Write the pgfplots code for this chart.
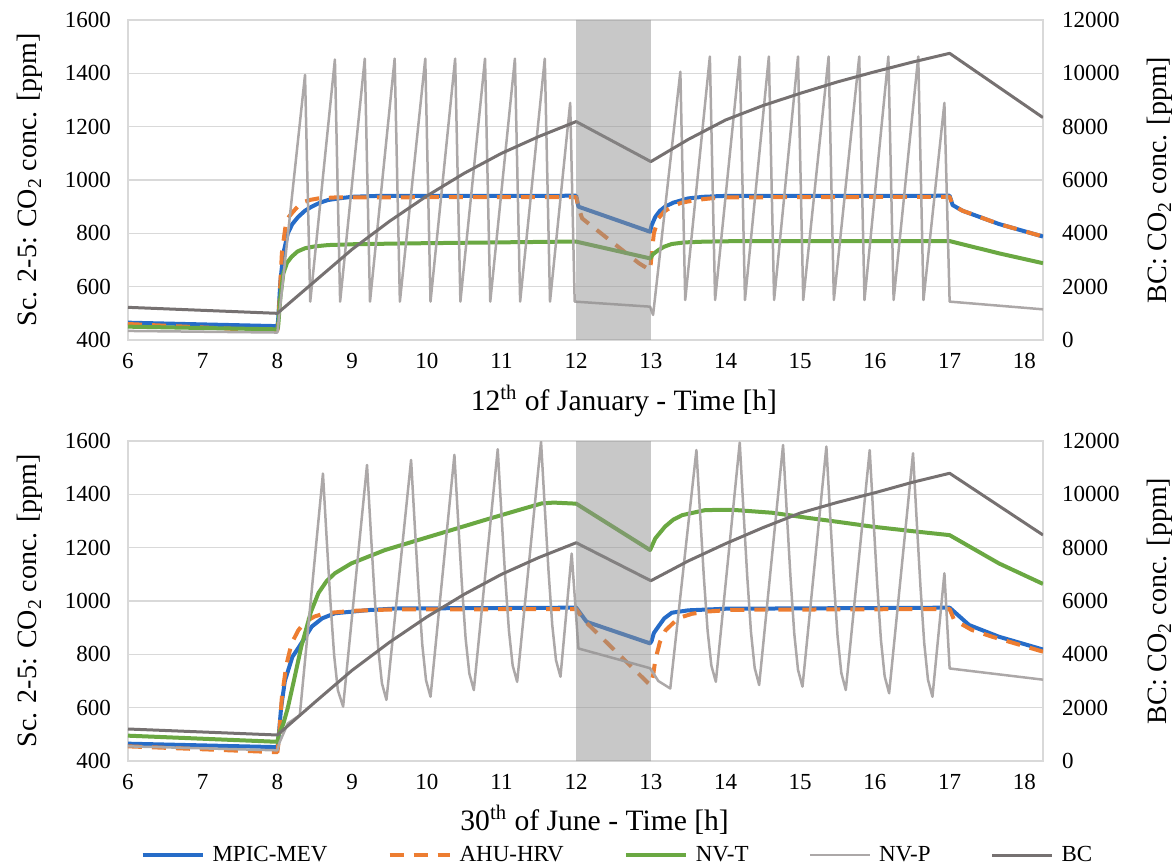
\documentclass[border=0pt]{standalone}
\usepackage{fontspec}
\setmainfont{Liberation Serif}
\usepackage{pgfplots}
\pgfplotsset{compat=1.18}

\definecolor{cBlue}{RGB}{38,108,200}
\definecolor{cOrange}{RGB}{237,125,49}
\definecolor{cGreen}{RGB}{106,168,66}
\definecolor{cNVP}{RGB}{172,168,168}
\definecolor{cBC}{RGB}{118,113,113}
\definecolor{cGrid}{RGB}{217,217,217}
\definecolor{cShade}{RGB}{145,145,145}

\pgfplotsset{
  base/.style={
    width=457.5pt, height=160pt, scale only axis,
    xmin=6, xmax=18.25, xtick={6,...,18},
    tick style={draw=none},
    tick label style={font=\rmfamily\fontsize{11.5}{13}\selectfont},
    label style={font=\rmfamily\fontsize{14}{16}\selectfont},
    /pgf/number format/assume math mode=true,
    /pgf/number format/1000 sep={},
    scaled y ticks=false,
  },
  lefty/.style={base, ymin=400, ymax=1600, ytick={400,600,...,1600},
    ymajorgrids, grid style={cGrid, line width=0.6pt},
    axis line style={cGrid, line width=0.6pt},
    yticklabel style={xshift=-5pt},
    xticklabel style={yshift=-3pt},
    ylabel={Sc. 2-5: CO\textsubscript{2} conc. [ppm]},
    ylabel style={at={(-0.107,0.5)}, anchor=center},
    xlabel style={anchor=center, font=\rmfamily\fontsize{14.8}{17}\selectfont},
  },
  righty/.style={base, ymin=0, ymax=12000, ytick={0,2000,...,12000},
    axis y line*=right, axis x line=none, y axis line style={draw=none},
    yticklabel style={xshift=6pt},
    ylabel={BC: CO\textsubscript{2} conc. [ppm]},
    ylabel style={at={(1.128,0.5)}, anchor=center},
  },
  mev/.style={cBlue, line width=2pt, line join=round},
  ahu/.style={cOrange, line width=2pt, dash pattern=on 7pt off 5pt, line join=round},
  nvt/.style={cGreen, line width=2pt, line join=round},
  nvp/.style={cNVP, line width=1.25pt, line join=round},
  bc/.style={cBC, line width=1.5pt, line join=round},
}

\begin{document}
\begin{tikzpicture}
\useasboundingbox (-64pt,-264pt) rectangle (523.5pt,170pt);

% ---------------- 12th of January ----------------
\begin{axis}[lefty, at={(0,0)}, xlabel={12\textsuperscript{th} of January - Time [h]},
  xlabel style={at={(0.542,-0.19)}}]
\addplot[mev] coordinates {(6,465) (8,452) (8.01,475) (8.04,620) (8.08,725) (8.14,800) (8.2,835) (8.28,862) (8.37,885) (8.46,900) (8.57,915) (8.68,925) (8.85,932) (9,937) (9.3,940) (12,941) (12.03,900) (12.99,806) (13.01,830) (13.06,862) (13.12,884) (13.19,900) (13.3,915) (13.5,931) (13.7,937) (13.95,940) (17,941) (17.04,906) (17.17,885) (17.66,835) (18.25,788)};
\addplot[ahu] coordinates {(6,460) (8,434) (8.02,500) (8.06,725) (8.12,850) (8.21,881) (8.32,915) (8.45,926) (8.55,931) (8.8,935) (12,936) (12.04,890) (12.08,856) (12.84,688) (12.99,662) (13.04,800) (13.1,856) (13.18,882) (13.28,900) (13.4,914) (13.6,925) (13.8,931) (14.04,935) (17,937) (17.04,906) (17.17,885) (17.66,835) (18.25,788)};
\addplot[nvt] coordinates {(6,450) (8,440) (8.01,450) (8.04,560) (8.08,650) (8.13,690) (8.19,712) (8.27,732) (8.37,744) (8.5,751) (8.68,756) (9,759) (9.66,762) (11.9,769) (12,769) (12.99,706) (13.03,722) (13.1,737) (13.18,750) (13.28,760) (13.45,766) (13.73,769) (14.2,771) (17,771) (17.66,725) (18.25,688)};
\addplot[nvp] coordinates {(6,434) (8,428) (8.37,1394) (8.44,544) (8.77,1452) (8.84,544) (9.17,1455) (9.24,544) (9.57,1455) (9.64,544) (9.98,1455) (10.05,544) (10.38,1455) (10.45,544) (10.78,1455) (10.85,544) (11.18,1455) (11.25,544) (11.58,1455) (11.65,544) (11.92,1289) (11.98,544) (12.99,525) (13.03,494) (13.395,1406) (13.46,550) (13.79,1463) (13.86,550) (14.19,1463) (14.26,550) (14.58,1463) (14.65,550) (14.97,1463) (15.04,550) (15.38,1463) (15.45,550) (15.79,1463) (15.86,550) (16.18,1463) (16.25,550) (16.58,1463) (16.65,550) (16.93,1289) (17,544) (18.25,515)};
\end{axis}
\begin{axis}[righty, at={(0,0)}]
\addplot[bc] coordinates {(6,1225) (8,1000) (8.5,2200) (9,3400) (9.5,4450) (10,5400) (10.5,6250) (11,7000) (11.5,7630) (12,8190) (13,6690) (13.5,7520) (14,8250) (14.5,8790) (15,9250) (15.5,9680) (16,10060) (16.5,10420) (17,10750) (18.25,8340)};
\addplot[draw=none, fill=cShade, fill opacity=0.5, forget plot] coordinates {(12,0) (12,12000) (13,12000) (13,0)} \closedcycle;
\end{axis}

% ---------------- 30th of June ----------------
\begin{axis}[lefty, at={(0,-210.5pt)}, xlabel={30\textsuperscript{th} of June - Time [h]},
  xlabel style={at={(0.51,-0.184)}},
  legend style={at={(0.536,-0.294)}, anchor=center, draw=none, fill=none,
    legend columns=5, font=\rmfamily\fontsize{11.5}{13}\selectfont,
    /tikz/every odd column/.append style={column sep=2pt},
    /tikz/every even column/.append style={column sep=28pt}},
  legend image code/.code={\draw[#1] (0pt,0pt) -- (30pt,0pt);},
]
\addplot[mev] coordinates {(6,465) (8,452) (8.01,470) (8.05,600) (8.1,700) (8.2,790) (8.32,841) (8.46,904) (8.6,935) (8.77,954) (9.22,966) (9.6,972) (12,975) (12.14,922) (12.99,841) (13.01,850) (13.04,880) (13.1,904) (13.18,935) (13.28,956) (13.5,965) (14,971) (17,975) (17.26,910) (17.66,866) (18.25,818)};
\addlegendentry{MPIC-MEV}
\addplot[ahu] coordinates {(6,455) (8,433) (8.02,480) (8.06,640) (8.12,760) (8.19,841) (8.28,890) (8.37,922) (8.5,942) (8.64,954) (9,963) (9.5,968) (12,970) (12.1,929) (12.99,685) (13.03,720) (13.06,779) (13.12,845) (13.2,891) (13.37,936) (13.55,952) (13.73,960) (14.1,967) (17,970) (17.06,929) (17.3,891) (17.57,866) (18.25,810)};
\addlegendentry{AHU-HRV}
\addplot[nvt] coordinates {(6,495) (8,472) (8.02,500) (8.08,540) (8.14,600) (8.22,700) (8.32,829) (8.45,960) (8.55,1030) (8.66,1075) (8.77,1104) (8.99,1141) (9.44,1191) (9.89,1229) (10.33,1266) (10.78,1304) (11.23,1341) (11.54,1366) (11.7,1369) (12,1365) (12.99,1191) (13.06,1235) (13.19,1279) (13.3,1305) (13.42,1322) (13.73,1341) (14.09,1342) (14.62,1331) (15.07,1313) (15.5,1297) (15.96,1279) (16.5,1262) (17,1247) (17.66,1141) (18.25,1064)};
\addlegendentry{NV-T}
\addplot[nvp] coordinates {(6,455) (8,440) (8.03,470) (8.14,541) (8.3,572)
 (8.61,1478) (8.66,1233) (8.71,997) (8.76,796) (8.81,665) (8.88,604)
 (9.20,1510) (9.25,1263) (9.30,1025) (9.35,823) (9.40,691) (9.46,629)
 (9.79,1529) (9.84,1280) (9.89,1041) (9.94,836) (9.99,703) (10.05,641)
 (10.37,1548) (10.42,1301) (10.47,1063) (10.52,860) (10.57,728) (10.63,666)
 (10.95,1569) (11.00,1325) (11.05,1089) (11.10,889) (11.15,758) (11.21,697)
 (11.53,1597) (11.58,1350) (11.63,1112) (11.68,910) (11.73,778) (11.79,716)
 (11.94,1178) (12.03,822) (12.99,748) (13.1,700) (13.26,672)
 (13.61,1566) (13.66,1323) (13.71,1088) (13.76,888) (13.81,758) (13.87,697)
 (14.19,1594) (14.24,1339) (14.29,1094) (14.34,885) (14.39,749) (14.45,685)
 (14.77,1585) (14.82,1331) (14.87,1087) (14.92,878) (14.97,742) (15.03,679)
 (15.35,1579) (15.40,1323) (15.45,1077) (15.50,867) (15.55,730) (15.61,666)
 (15.93,1566) (15.98,1311) (16.03,1064) (16.08,855) (16.13,718) (16.19,654)
 (16.51,1554) (16.56,1297) (16.61,1052) (16.66,842) (16.71,705) (16.77,641)
 (16.93,1104) (17.0,747) (18.25,705)};
\addlegendentry{NV-P}
\addlegendimage{bc}
\addlegendentry{BC}
\end{axis}
\begin{axis}[righty, at={(0,-210.5pt)}]
\addplot[bc] coordinates {(6,1200) (8,975) (8.5,2200) (9,3400) (9.5,4450) (10,5400) (10.5,6250) (11,7000) (11.5,7630) (12,8185) (13,6760) (13.5,7500) (14,8150) (14.5,8750) (15,9300) (15.5,9700) (16,10060) (16.5,10450) (17,10790) (18.25,8475)};
\addplot[draw=none, fill=cShade, fill opacity=0.5, forget plot] coordinates {(12,0) (12,12000) (13,12000) (13,0)} \closedcycle;
\end{axis}
\end{tikzpicture}
\end{document}
